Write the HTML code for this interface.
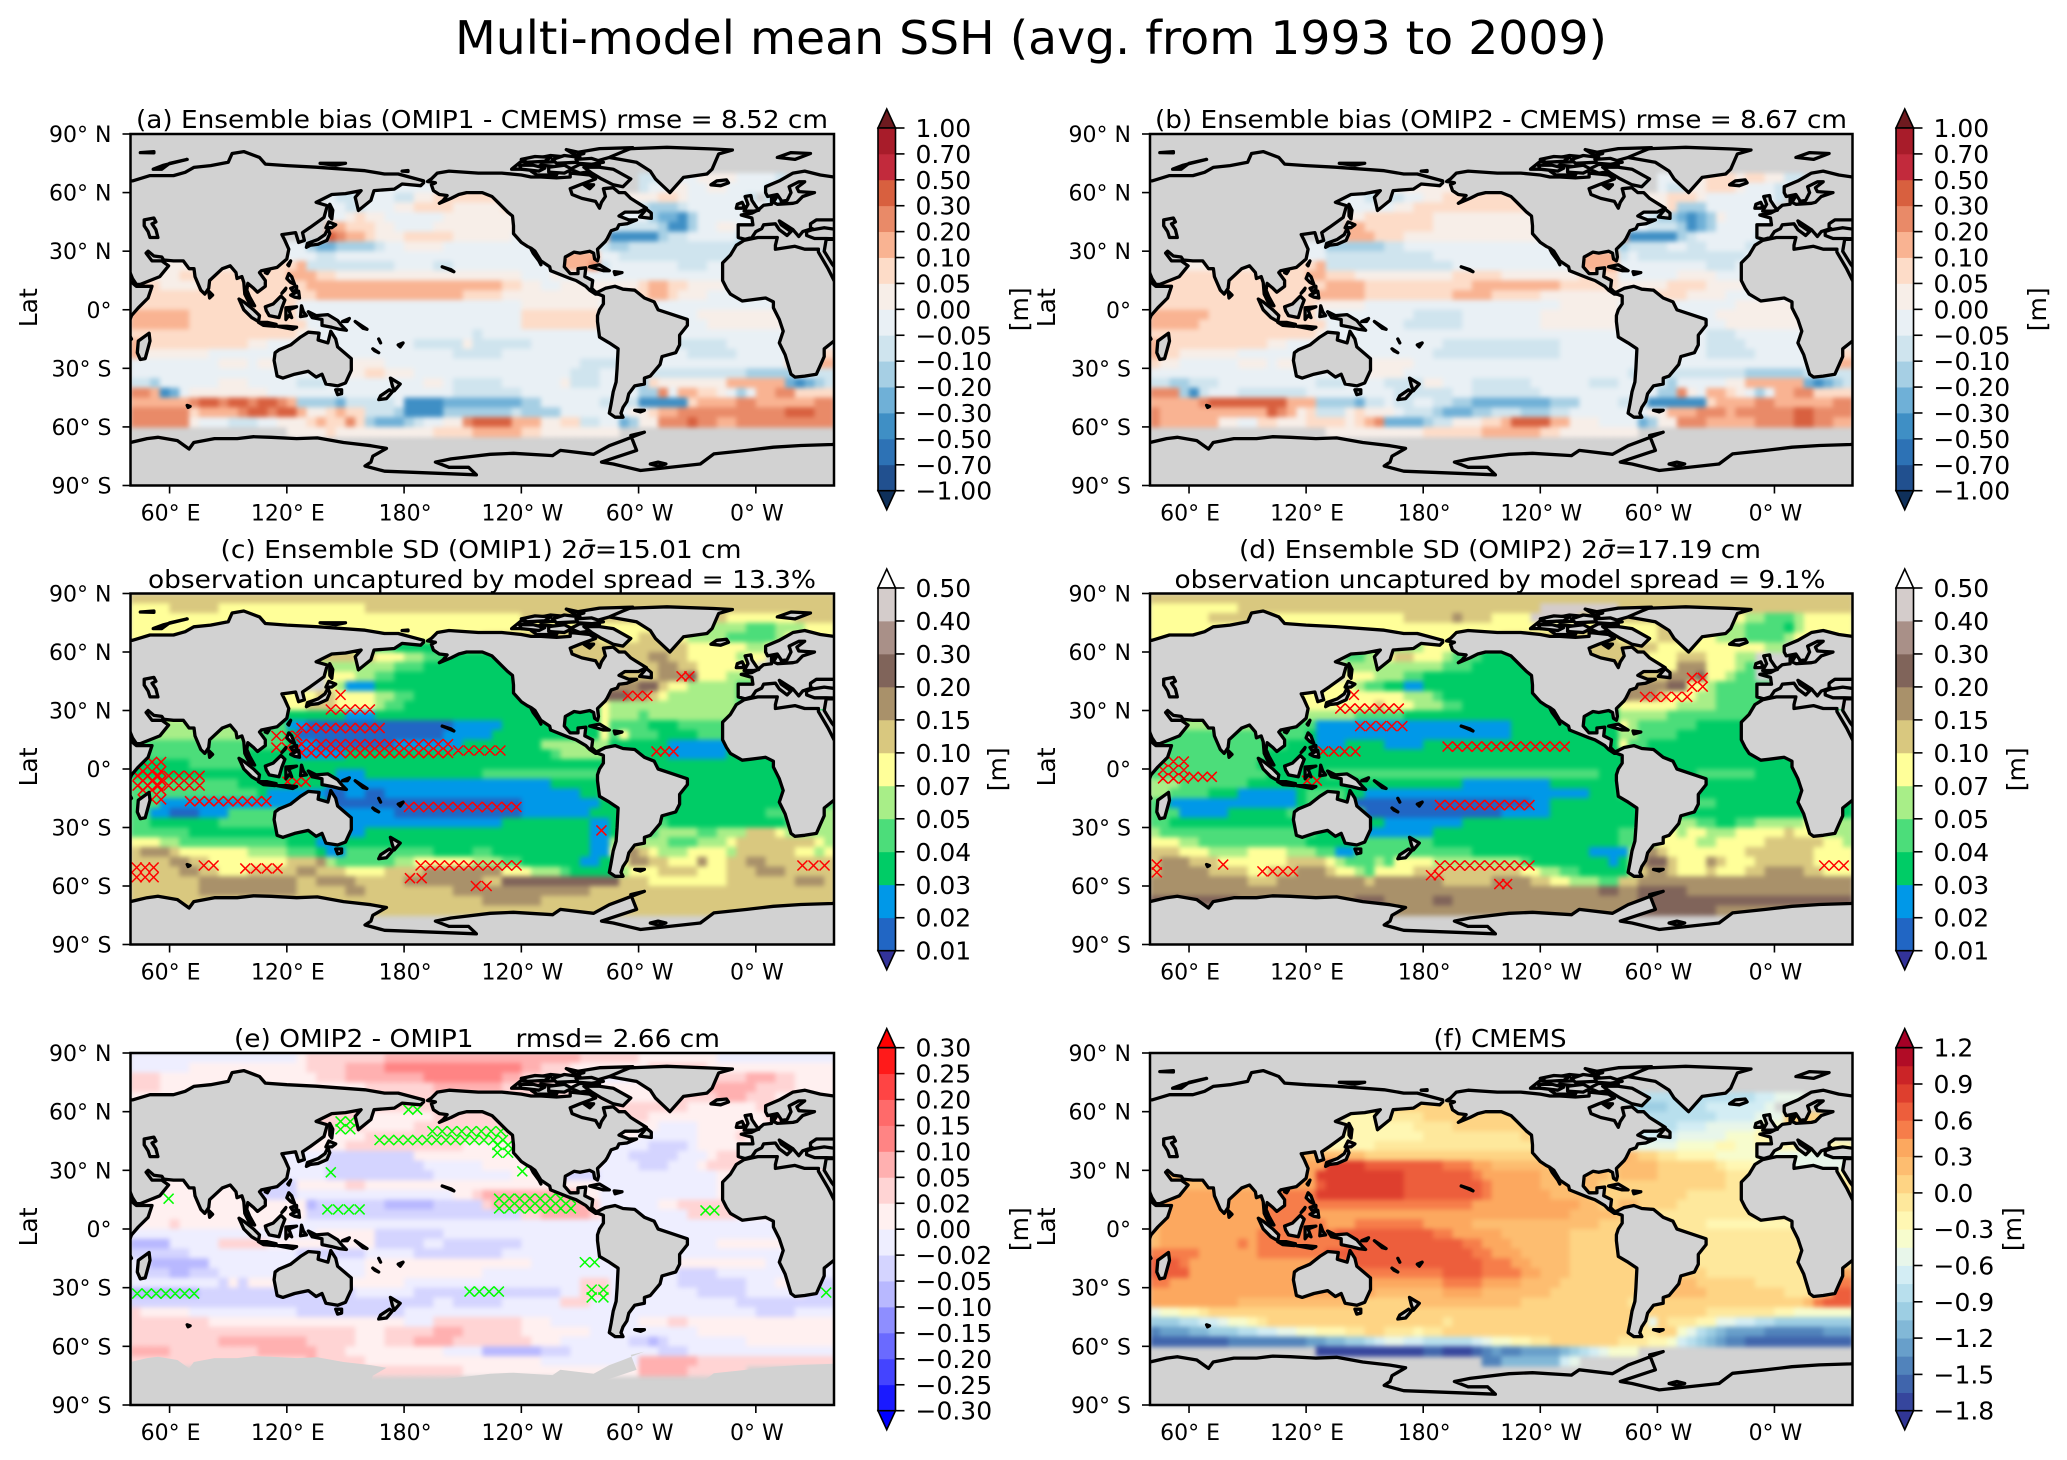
<!DOCTYPE html>
<html lang="en">
<head>
<meta charset="utf-8">
<title>Multi-model mean SSH</title>
<style>
html,body{margin:0;padding:0;background:#fff;}
svg{display:block;}
text{font-family:"DejaVu Sans","Liberation Sans",sans-serif;fill:#000;}
.ttl{font-size:25px;text-anchor:middle;}
</style>
</head>
<body>
<svg id="figure" width="2067" height="1460" viewBox="0 0 2067 1460">
<defs>
<filter id="soften" x="-5%" y="-5%" width="110%" height="110%" color-interpolation-filters="sRGB"><feGaussianBlur stdDeviation="2.5"/></filter>
</defs>
<rect x="0" y="0" width="2067" height="1460" fill="#ffffff"/>
<text x="1031" y="54" font-size="46" text-anchor="middle" textLength="1152" lengthAdjust="spacingAndGlyphs">Multi-model mean SSH (avg. from 1993 to 2009)</text>
<text class="ttl" x="482" y="128" textLength="692" lengthAdjust="spacingAndGlyphs">(a) Ensemble bias (OMIP1 - CMEMS) rmse = 8.52 cm</text>
<text class="ttl" x="1501" y="128" textLength="692" lengthAdjust="spacingAndGlyphs">(b) Ensemble bias (OMIP2 - CMEMS) rmse = 8.67 cm</text>
<text class="ttl" x="481" y="558" textLength="521" lengthAdjust="spacingAndGlyphs">(c) Ensemble SD (OMIP1) 2<tspan font-style="italic">σ̄</tspan>=15.01 cm</text>
<text class="ttl" x="482" y="588" textLength="668" lengthAdjust="spacingAndGlyphs">observation uncaptured by model spread = 13.3%</text>
<text class="ttl" x="1500" y="558" textLength="522" lengthAdjust="spacingAndGlyphs">(d) Ensemble SD (OMIP2) 2<tspan font-style="italic">σ̄</tspan>=17.19 cm</text>
<text class="ttl" x="1500" y="588" textLength="651" lengthAdjust="spacingAndGlyphs">observation uncaptured by model spread = 9.1%</text>
<text class="ttl" x="477" y="1047" textLength="486" lengthAdjust="spacingAndGlyphs" xml:space="preserve">(e) OMIP2 - OMIP1     rmsd= 2.66 cm</text>
<text class="ttl" x="1500" y="1047" textLength="133" lengthAdjust="spacingAndGlyphs">(f) CMEMS</text>
</svg>
<script>
/* ---------- axis tick data ---------- */
const lonTicks = [60,120,180,240,300,360];
const lonTickLabels = ["60° E","120° E","180°","120° W","60° W","0° W"];
const latTicks = [90,60,30,0,-30,-60,-90];
const latTickLabels = ["90° N","60° N","30° N","0°","30° S","60° S","90° S"];

/* ---------- colour-bar data (ticks listed top to bottom) ---------- */
const biasTicks = ["1.00","0.70","0.50","0.30","0.20","0.10","0.05","0.00","−0.05","−0.10","−0.20","−0.30","−0.50","−0.70","−1.00"];
const sdTicks = ["0.50","0.40","0.30","0.20","0.15","0.10","0.07","0.05","0.04","0.03","0.02","0.01"];
const diffTicks = ["0.30","0.25","0.20","0.15","0.10","0.05","0.02","0.00","−0.02","−0.05","−0.10","−0.15","−0.20","−0.25","−0.30"];
const cmemsTicks = ["1.2","0.9","0.6","0.3","0.0","−0.3","−0.6","−0.9","−1.2","−1.5","−1.8"];

/* palettes run from lowest (under) to highest (over) */
const biasPalette = ["#0f305a","#21508f","#2d72b5","#3f8fc5","#6fb0d7","#a6cfe4","#cfe4ee","#e9f0f5","#f7eee8","#fddcc8","#f9b392","#e98a68","#d8603f","#c22a3c","#a81c2a","#6e1a1f"];
const biasCodes = "abcdefghijklmnop";
const sdPalette = ["#333399","#2166c4","#0098e8","#00cc66","#4cdd7a","#a8ee88","#ffff99","#d9c87f","#a9916a","#80645a","#a99088","#d4cccb","#ffffff"];
const sdCodes = "abcdefghijklm";
const diffPalette = ["#0000ff","#1a1aff","#4444ff","#6a6aff","#8e8eff","#b8b8ff","#d4d4ff","#eeeeff","#fff0f0","#ffd4d4","#ffb0b0","#ff8484","#ff6a6a","#ff4444","#ff1a1a","#ff0000"];
const diffCodes = "abcdefghijklmnop";
const cmemsPalette = ["#313695","#36469d","#4065ac","#5183bb","#689fca","#82b8d7","#9dcee3","#b8dfed","#d3edf4","#e8f6ea","#f7fccd","#fff7b3","#fee89c","#fed484","#fdbd70","#fca85f","#f67d4a","#ed5e3c","#de3f2e","#cb2427","#b10c26","#a50026"];
const cmemsCodes = "Zabcdefghijklmnopqrst+";

/* ---------- gridded fields: 36 rows (90N to 90S, 5 deg), 6 groups of 12 columns (40E eastward, 5 deg).
   Each character is a colour-level code; a short group repeats its last code; "." = no data. ---------- */
const fieldA = [
".",".",".",".",
". . . . ....gggghhii iihhhhg.",
". ........hhgh hhhhhhhhhjjj jj..... ....ghhiihhi ihhhhg.",
". ........hggh hhhggiijjjjj jjj..... ggiiiijjihhh hhhg.gg.",
". hhhhhhhhhhgg hhhiijjjjiii iijj.... hhhhgfffghhh hhhhhhh.",
". ........hhij iihhhhhhiiii iiii.... hhhhhfeedfhh hhhhhhh.",
". ........kkjj jiihhhhiiiii iiii.... hhggggfddfhh iihhh.",
". ........mlkk jiiijjjjjiii iiihhhhh.... kdddddfgghhh hhggg.",
". hhhhhhfeefff fghhiiiihhhh hhhhhhhh gffggggggggg ggfg",
"i hhhhhhhgghhh h hhhhhhhhkkkk hhgggggggggg gg",
"i jjjjjkgggggg ggghhhhgghhh hhhhhhhhkkkl ghhhhhhhgggh hh",
"jjiiijjjjjjj jjjjkkkjjiii i iiiihhhihhhh h h",
"jjjiiiijjjjj jjjjjjkkkkkk k kkjjiihhiiii iiiijkkjjiii ihhhhhh",
"ijjjjjjjjjjj jjjjjjjkkkkk kkkkkkkkkkjj jjiiiiiiiiii iiijjkkjiiih h",
"j jjjjjhhhhhhh h hhhhiiiiiiii h h",
"kkkkkkjjjjjj jjjjjhhhhhhh h hhhhjjjjjjjj hhhhhhhhhhii i",
"kkkkkkjjjjjj jjjjjjhhhhhh h hhhhjjjjjjjj hhhhhhhhhhhi i",
"j jjjjjiihhhhh hhhhhhhhhhhg h h h",
"kjjjjjjjjjjj iihhhhhhhhhh hhhhhgggggig ggggghhhhhhh hhhhhhhhgggg ghhhhhhhhh",
"kiiiiiiihhhh h hhhhhhhhhggg gghhhhhhhhhh hhhhhhhhhggg gghhhhhhhj",
"hhhhhhhhhiii hiiiiiiiiiii iihhhhhhhhhh hhhhhhhhhhgg gghhhhhhhhhh hhhhhhhjjk",
"h hhhhhhhhhjii jjiiihhhhhhh hhhhhhhhhggg hhhhggggggg gggfffffhhgg",
"ggfhhhhhhiii hhhhhggghhhh hhhhhhiihggg gghhhhhhiggg hhhgfjiiiiii ikkkkkkedefg",
"llkdehiiiiii iihhhhhhhhhh hhhhhhhhhggg gggghhhhhhhh hhhhfflhkkjj ihfhkklljjjj",
"kkkkkklmmlmm lmmlkffffegg ggghddddeeee eeeeffhhhhhh ggggdddddjkk kkllkkkkkkll",
"lllllljkkkkl mmlmmkiijkjj gggfddddffff fffgffffhhhh hhhiijkkllll lllllllmmmll",
"llllllihhhgg ghhiiijkjjlj feeefghhiilm mmmkkkiijjgg hhefiilllmll kkllllllllll",
". ....iiiijiii iiiiiiijjjjk kkkkjjiiiiii ii.",
".",".",".",".",".","."
];
const fieldB = [
".",".",".",".",
". . . . ....hhiiijjj ijjiigg.",
". .......hhhhh hiiiiiiiijjj jj..... ....hggiijjj ihhhgh.",
". ........hhgg gghhiijjjjjj jjj..... ggiiijjjihhh hhhhg.",
". hhhhhhhhhhhh hiijjjjjjjjj jjjj.... hhhiijfffhhh hhhh.",
". ........iijj jjjjjiiiiiii iiii.... hhhgffedefih hhhh.",
". ........kkjj jjjjjiiiiiii iiii.... hhhgggfdefhh hhhh.",
". ........kkkj jjiiiiiiiiii iiiihhhh.... ldddddfghhhh hhgg.",
". hhhhhhffffff gghhhhhhhhhh h fgggghhgghhh hg",
"i hhhhhhggggg ggggghhhhhhh hhhhhhhhkkkk ghgggggggggg gh",
"i jjjjjkgggggg ggggggghhhhh hhhhhhhhkkkk hhhhhhhhhggg hh",
"j jjjjkkjjjiii iiiiiiijjjjj iiiiiiiijjjj hhhhhhiiiihh hh",
"j jjjjjjkkkkjj jjjjjjjjjkkk kkkkkkjjjjjj iiiiijjjjiii ih",
"j jjjjjkkkkkjj jjjjjjjkkkkj jjjjiiiiiiii iiijjjjiiiih hh",
"j jjjjjiiiiihh h hhhhhhiiiiii h iiii",
"kkkkkkjjjjjj jjjjjhhhhhhh hhhggggghhhh hhhhiiiiiiii hhhhhhhhhhii iiiii",
"kkkkkjjjjjjj jjjjjjhhhhhh hhgggggghhhh hhhhiiiiiiii hhhhhhhhhhhi iii",
"j jjjjjihhhhhh h h hhhhhhhhhggg hhh",
"kjjjjjjjjjjj iihhhhhhhhhh hhhhhhgggggg gggggghhhhhh hhhhhhhhhggg ghhh",
"kjjiiiiiihhh h hhhhhgggggg gggggghhhhhh hhhhhhhhhggg gghhhhhhhj",
"jiihhhhhhiii hiiiiiiiiiii iiihhhhhhhhh h h hhhhhhhhjk",
"h hhhhhhhhhiii iihhhhhhhhhh h hggggggggggg gffffffgggg",
"ggffggghhhhh hhhhhggghhhh ggggiihhhggg ggghhhhhhggg hhhhgfhhhhhi ikkkkkkedefg",
"lllfdghhhggg gggghhhhhhhh hgggggghhggg gggghhhhhhhh hhhhfflihkkj ihfhkklljjjj",
"kkkkklmmmmmm mmkkkffffegg hgghhggffeee eeeeefffhhhh gggddddddjkk kkllkkkkkkll",
"lkkkkkkkkkkk mlkijgggijii ihgggfeeeffg ggfffgghhhhh hhhiikkklllk llllllmmllll",
"lkkkkkkiihhj jiiijjjjijkl eeeefggiiijj kmmmmkkiiihh hhefiilllkkk kkllllmmllkk",
". ......iiiiii iiiijjjjjjkk kkkkjjiiiiii ii.",
".",".",".",".",".","."
];
const fieldC = [
"h",
"gggghhhhhggg g h h h h",
"g g g gggghhhhhhhh h hggggggghhhhh",
"g g g g ggggggggggff fffeeefffggg",
"g g g hhhhhhhhhhhh gggghhhggfff feeeeefggg",
"g ........fffg deeddddddfff hhhhhhhhhhhh hhhhhhhhhggg gggffgg.",
". ggggfffhhhhg hgggffeedddd dddddddddhhh hhhhhiihhggg ggfgg.",
". ffffffffffff fffeeedddddd dddddddddhhh iihhhhiihhgg gggg.",
". ........gggf feeddddddddd d gghhhhiiijgg gfff.",
". ........gfcc cddddddddddd d hiiijjhggfff ffeee.",
". ggggggghhggg gffeeddddddd d jjjiihgfffff ffeee.",
"g gggggghhhggg gfeedddddddd d gfffffffffff ffe",
"g ddddddddddcc cddddddddddd d gfffefffffff ffe",
"f eeeeccbbbbbb bbbbbbbbbccc ccdddddddddd geeeedddeeee eee",
"f eeeedbbbbbbb bbbbbbbbcccc cddddddddddd gegeeeddddee e",
"e eeeedccbbbbb bbbcccccccdd ddddddffffff fddddddccccc ccdddd",
"e dddddcccccdd d dddddddeffff fddddddccccc cd",
"ddddddeeeeee d d d d d",
"d dddddddddccc d e eeeddddddddd d",
"eeeeeeeeeeed ddddddddcccc c cccccccddddd eeeeeddddddd d",
"e edccccccbbcc bbcccccccccc ccccccccccdd eeeedddddddd d",
"eeeccccccccc ccccccddbbbb b bbbbcccccccc dddedddddddd ddddddddee",
"eeccbbbcccee eeeeeeddcccc cccbbbbbbbbb bbbbcccccccd ddeedddddddd dddddeeff",
"eedddddddeee eeeeeeddcccc c ccdddddddddc cdddeeeddddd dddddddeff",
"eeeeeedddddd dddddddddccc d dddddddddddc cdddeeffffee fffhhhgfff",
"gggffeeeeeee eeeedddccddd d dddddddddddc cfdgfffeeeff fghhhhhhhhgf",
"hiiihggggggg ffffeeedccee eeeeeeedddde eddddddddddc cgiihgfffggg gfhhhhhhggfg",
"hhhhiihhgggg gggghhhifeee eeeffggggggf ffeeddddddcc ddgiihhgggig ghhiihhhhhhh",
"hhhhhiihhggg hhhhhiihhhgg gghhhhiiiiii iigggfffeddd ddfggghhhhgg ghhhiiihhhhh",
"hhhhhhhiiiii iiiiihhiiiih hhhhiiiiiiii hhjjjjjjjjjj jjhhhggggggg ghhhhhhhiiih",
"hhhhhhhiiiii iiiiihhhhhii hhhhhhhhhiii iiiiiiiiiiih h h",
"h h h iiiiiihhhhhh h h",
". . h h h h",
".",".","."
];
const fieldD = [
"h",
"ggggggggghhh h h hhhhllllllll h h",
"gggggghhhhhg g gghhhhhihhhg ggglllllhhhh h gffeeefggggg",
"g g g g gggghhhhggff feeeedfgggg",
"g g g hhhhhhhhhhhh gggghhhhggff feeeefggg",
". ........eeef efffgggfffee hhhhhhhhhhhh hhhhgggggggg gggff.",
". ........eefg ghhgggfeeedd dddddddddhhh hhhggghhhggg ff.",
". ffffffffffff ffffffeeeddd dddddddddhhh ihhgggiiiggg fe.",
". ........gggf ffeedddddddd d gghhhiiijggf ee.",
". gggggggggfee ddccdddddddd d hiiiijjggfee ee",
". ggggggggggg ggfffedddddd d jiiihgggffee ee",
"g gggggggggggh gggfffeedddd d ggggggffffee ee",
"f fffffffffeee eedddddddddd d fffffeeeeeee e",
"f eeeeeccccccc c cddddddddddd gfeeeeeedddd d",
"e eeeedccccccc c cddddddddddd ffeeeedddddd d",
"e eedddcccdddd ccccdddddddd d geeddddddddd d",
"e d d d d d",
"eeeeeeeeeeed d d d d d",
"e ddddddeeeeee e eeeeeeeeeedd eeedddddeeee eedd",
"fffeeeeeeedd d ddddddddcccc cccccddddddd eeeedddddddd d",
"ffeeeedddccc cccdeeeeddcc c cccccccccddd eeeeeeeddddd ddddddddee",
"edcccccccccc cccdeeeedbbb b bbbccddddddd ddddddeeeedd d",
"eeecccccdddd ddeeeeeeeebb b cccccddddddd ddeeeedddddd d",
"eedddddddddd ddddeeeeeddd ccccccccdddd d ddeeffffeedd eefffffgff",
"feeeeeeeeeee eeeeeddddecc cccccddddddd d eeffggfggfff ggggghgggfff",
"gggffeeeeeee eeeedddddeee eeeeeddddddd d eeefggggffgg ggghhhhhhggf",
"hhhgggffffgg ggfffeecceee eeeeeeeeeddd dddddddddccc cfiihggggggg ghhhhhhhgggg",
"hiiihhhggggg gghhhhgfeeef eggggfffffff ffeddddddddc dfijjhgggihg gghhhhhhgggg",
"hiiiiihhhhgg hhhiiihggfeg ggghhhhhhhhh hhggffeedddd dfhiihggghgg ghhiiiihhggg",
"iiiiiiiiiihh hiiiiiiiiihi iiiiiihhhhhi iiihhggfffee hhiiiiiiiiii i",
"i i i iiiiiiiiiijj iijjjjjiiiii i",
"jjjjjjjjjiii iiiiiiiiijjj iiiiijjiiiii i iijjjjjjjjjj j",
". . jiiiiiiiiiii i iijjjjjjjjii i",
".",".","."
];
const fieldE = [
"h hhhhhijjjjjj jjkkkkkkkkkk kkkkkkkkkkjj jjjjiiiiiiii h",
"hhhhhhiiiiii iiiiiijjjjkk kkllllllllll llllkkjjjiii iiiiijjjjjji i",
"jjjiiiiiiiii iiiiiiijjjkk kkkkkkllllll llkkjjjjiiii hhhhhhhhiiij jjjkkkjjiiii",
"jjjiiiiiiiii i jjjjjjjkkkkk kkjjjjjiiiii iiiiiijjjjjk kkkkjjjjiiii",
"i i jjjjjjjj jjjj iiiiiijjjjjj kkkjjjiiii",
"i ........jjjj j j jjjjjjjjjiii iiiijj",
"i j iiiiiiijjjjj j jjjjjiiiiiii iiiiijj",
"i j iiiiijjjjjjj j jjiiiihhhhii i",
"i i j j iiiihhhhhhii iijiii",
"i iiiiiiiiiijj jjjjjjjjjjii i hhhhhgggghii i",
"i hhhhhhhhgggg gggggiiiiiii i hhhggggghhhi jjjjjii",
"i hhhhhhhhgggg gggggghhhhhh iiiiiiiiii hhhhggghhhij j",
"i hhhhhhhhgggg ggggggghhhhh hhhiiiiigggg h iiii",
"i gggggiiiiijj i i h iiii",
"i ggggghhhhhhh hhhhhhhhhiij kkkkkkkkkkii h iiii",
"i iiiiiifggggg ggfffffggggg jkkkkkkkkkkj hhhhhhiijjjj jjiiii",
"i iiiiiigggggg g ggggjjkkkkkj iihhhhhhhjjj jjiiii",
"iiiijiiiiiii iiiihhhhhhhh h h h h",
"h hhhhhhhiiiii iggggggghhhh h h h",
"ffffhhhhhjjj jjiiiiiiiiii iggggghhgggg gggghhhhhhhh h i",
"gggggghhhhhh hhhhhgggggg hhhhhggggggg gghhhhhhhhhh h h",
"hgffffffhhhh h i iiiiihhhhhhh hhhhhhiiiiii iiiiihh",
"hgggffggghhh h i h hhhhhhhhgggg h",
"hhhhhhhhhgig i iiiihhhhhhhh hhhhhhhhhhjj jhhhhhhhgggg ggghhhiiihg",
"fffffffggggg gggggggggfgh hhhhhggggggg gggggggghhjj jhhhhhhhhhgg ggghhhhhiggg",
"g g ggggggghhggg gghhhhhhjjjh h hhgggggggggg",
"jiiiiihhhhhh hhhhhggggggg gggghhhhhhhh h h hhhhgggghhh",
"jjjjjjjjiiii i iiiihhhjjjjj jjjjiiihhhhh hhhhiiijjiii iii",
"j jjjjjjjjjjji iijjjjjkkkjj jjjjiiiiiiih hhhhhhhhhhii i",
"jjjjjjjjjkkk kkkkkkjjjjji iijjjkkkkjjj jjjjjiiihhhh hhhggfghhhhh hhhiiiii",
"kkkkjjjjjjjj jkkkkkkjjjii iiiiiiiihhhh ffffffggghhh hhhhhhggghhh h",
"j jjjjjjkjjjjj i iiiiiihhhhhh hhhhkkkkkkjj j",
". .....jjjjjjj jjjjjjjjjjii i iiiikkkkkjjj jjj.",
".",".","."
];
const fieldF = [
".",".",".",".",
". . . . gggggggggggg gghhiii.",
". ........llll lmmmmmmmmmmm mmm..... ggfffgggghhh hhhi.",
". ........kkkk llllmmmmmmmm mmmm.... gggggggggghh hhiiimmmm.",
". kkkkkkkkkkkk kkkllllmmmmm mmmm.... hhgggghhhiii iijjjmmm.",
". jjjjjjjjkkkk kkkkllllllll llmmmmmm.... hhhhhhiiiiij jjkkk.",
". kkkkkkkkkkkl l lllll iiiiiijjjjkk jjkk",
". nnnnnnnnnnmm m mmmmmmmmm onmmllkkkkjj jjjiiiiiiiii",
"n oooooorrrrqq qqqqqqpppoon nnnnnmmmmmmm nnnnmmmmmmlk kkjjjiiiiiii",
"n ooooorrrrrrr rrqqqqqqqpoo oooonnnnnnnm nnnnmmmmmmml lllk",
"n oooooqrrrrrr rrqqqqqqqqpo oooonnnnnnmm mmmmmmmmmmml l",
"o ppppprrrrrrr rrqqqqqqqqpo ooooonnnnmmm mmmmmmmlllll ll",
"o p pppppppppooo oooooooonnmm nnmmmmllllll ll",
"o pppppooooooo o ooooooonnnnn mmmlllllllll ll",
"nooooooooooo ppppppoooppp ppppooooonnn nnnnnnnnnnmm mllllllllkkk k",
"noooooooooop pppppppqqqqq qqqqqppooooo nnnnnnnmmmmm mlllllllllll l",
"noooooooopop ppppppppqqqq qqqqqqqqppoo onnnnnnmmmmm mmmlllllllll lll",
"pppppoooooop ppppppqqqqqq qqqqqqqqqppo oonnnnnmmmmm mmmmmmllllll lll",
"qqqpoooooooo ooooooppqqqq qqqqqqqqqqpp poonnnnmmmmm mmmmmmmmllll lllllllll",
"qqqqoooooooo oooopppppppp ppppppqqqqpp ppoonnnmmmmm mmmmmmmmmlll lllllllllno",
"ppoooooooooo ooooooppppoo ooooooppppoo oonnnnmmmmmm mmmmnnnnmmmm mmlllllllnpp",
"o ooooooooooon nnnnnnoooonn nnnnnmmmmmmm mmmmnnnnnmmm mmmmmllllnqq",
"ooooooooonnn nnnnnnnnnmmm mmmnnnnnnnnn nnmmmmmmmmmm mlkmmmmmmmmm mmmmmmmnpqqq",
"ijjkklmmmmmm m m m mmlmmmmmmlll llllkkjjjjjj",
"fffgghhijjkl m mmmmmmlmmmmm m mmmimlllkkii hhggffffffff",
"cdddeefffggh hiijjkkkllmm lllkllmmmmmm m mmllmmjigfed dddccccccdddd",
"bbbbbbbbcccc ccccddeeffgh iihhggggghij jkkllmmmmmmm lllkkjhgfedc cbbbbbbbbbbb",
". .....aaaaaaa aaaabbaaabcd ccddddefghij jj.",
". . ..........cc eeeeeehi.",
".",".",".",".","."
];

/* ---------- hatching regions: [west lon, east lon, south lat, north lat] ---------- */
const hatchC = [[44,58,-18,6],[41,78,-11,-1],[68,112,-20,-13],[112,128,8,20],[125,205,6,15],[205,232,8,11],[125,170,18,24],[140,165,29,32],[145,150,36,40],[180,240,-23,-16],[118,132,-9,-4],[41,54,-58,-48],[75,85,-51,-48],[96,118,-52,-50],[186,240,-52,-47],[180,192,-58,-54],[214,225,-61,-59],[292,307,36,39],[320,328,45,50],[307,320,8,10],[278,284,-33,-30],[381,398,-52,-47]];
const hatchD = [[44,60,-7,6],[60,74,-5,-3],[135,170,29,33],[142,147,35,41],[145,172,21,23],[126,148,6,12],[190,255,9,14],[186,237,-22,-15],[291,318,35,39],[315,326,40,49],[41,46,-55,-47],[75,80,-51,-47],[95,116,-54,-51],[186,237,-51,-48],[217,225,-60,-58],[182,190,-56,-53],[383,398,-52,-47],[118,128,-8,-4]];
const hatchE = [[145,155,49,57],[165,233,42,49],[192,232,47,53],[225,236,37,45],[180,189,60,62],[238,243,28,31],[226,268,8,18],[140,145,28,30],[138,160,9,11],[332,341,7,12],[41,75,-36,-30],[211,231,-33,-31],[270,280,-18,-16],[273,285,-37,-29],[393,399,-35,-30],[57,62,13,18]];

/* ---------- coastline data: flat [lon,lat,...] lists, lon measured eastward 30..410 ---------- */
const coastEurasiaEast = [30,66,41,66,50,68.7,62,68.7,68,70.4,72.4,72.9,81,73.8,90,75.5,92,80,98,81,106,78,109,74.6,120,73.8,135,73,160,71.2,170,69.5,177,69.5,190,66,190,65,188.5,63.5,179,64.4,175,61.8,164.6,61,163,56,156.6,50.8,155,57.6,158,61,150,59.5,143,59,135,55,140.7,53.3,139,47.3,132,42.2,128,39.5,129,35.5,126,34.5,124.5,39.5,121,39,117.5,38.5,119,35.5,121,31,120,26,115,21.7,107,20,106,19,109,15,109,12,105,9,103,11,100,13.5,99.5,10,101,6.5,103.5,2,101,3,98.5,8,98,14,97,17,94.5,16,94,19,91,22.5,87,21,80.5,15,80,11,78,8,76,10,73,17,72.5,21,70,21,67,25,62,25,57,25.5,56,27,52,27.5,49,30,48,29,51,25,56,25,59.5,22.5,55,17,45,13,43,13,41,16,39,21,35,28,30,30];
const coastHorn = [30,14,40,14.5,43,12,51,12,49,6,44,1,40.5,-3,39,-7,39,-12,40.5,-15,35,-20,30,-20];
const coastMadagascar = [44,-16,49.5,-12,50,-16,47.5,-25,45,-25.5,43.5,-22];
const coastEurope = [410,68,400,68,393,69,385,71,379,70,372,66,365,63,365,60,366,58,371,59,373,56,373,55.5,376,56,378,60,377,63,382,65.5,385,65.5,381,62.5,382,60.5,390,60,384,58,381,55,379,54.5,371,54,369,55,370.5,57.5,368,57,368,54,364,53.5,361,51,358,49.5,352.5,48.5,358,47,358.5,43.5,351,43.5,351,37,354.5,36,358,37,360,40,363,41.5,364,43.5,370,44,372,41,376,38,378,40,373,43.5,372,45.5,379,41,382,37.5,384,40,387,41,389,41.5,388,42,388,44,391,46,397,46,400,46,410,46];
const coastTurkey = [386,40,389,41,395,42,402,41,410,38,410,36,396,36.5,390,36.5,386,38];
const coastArabiaEast = [395,30,399,23.5,410,10,410,36,396,36];
const coastAfrica = [354,35.5,350,33,347,28,343,24,343,20,343,15,345,11,347,8,353,4.5,357,5,365,6,369,4,369,1,372,-5,374,-11,372,-17,375,-23,378,-33,380,-34.5,385,-34,391,-33,393,-28.5,395,-24,395,-20,400,-16,405,-12,410,-5,410,10,400,15,397,21,392,29.5,392,31,385,31,380,32.5,370,31,370,33,371,37,361,37];
const coastNorthAmerica = [192,65.7,194,67,197,70,203,71,218,70,230,70,240,69,245,68,250,68,258,67.5,265,68,265,70,275,69,278,67,270,64,265,62,266,59,271,57,278,55.5,280,52,281,55,283,58,282,62,287,62.5,290,60,293,60,296,57,304,52,300,50,293,50,290,48,295,46,299,46,294,44,290,43.5,289,41.5,286,40.5,284,36.5,283,35,279,31,279.5,27,279,25,277.5,26,277,29,275,30,270,29,267,29.5,262.5,27,262,22,265,18.5,269,18.5,269,21,273,21.5,272.5,17,276.5,15,276,11,278,9,283,9,282,8,278,8,275,10,273,12,268,15,265,16,255,20,254.5,22,250,25,247,30,245,31.5,243,32.5,240,34.5,236,39,236,43,235.5,48,233,50,228,55,225,58,220,60,212,60,208,59,204,57,198,54.5,200,56,202,58.5,198,59,195,61,194,64,196,65];
const coastSouthAmerica = [278,8.5,283,11,288,12,292,10.5,298,10,303,6,308,4,310,0,316,-2,325,-5,325,-8,321,-13,321,-18,319,-22,312,-24,311,-28,306,-34,303,-35,303,-38,298,-39,295,-43,294,-47,292,-50,291,-53,292,-55,288,-55,285,-53,286,-48,287,-42,288.5,-37,289,-30,289.5,-20,285,-17,280,-14,279,-6,279,-3,280,0,282,3,282,7];
const coastBaja = [245,31,248,27,250,23,249,25,246,29];
const coastGreenland = [284.7,78,292,82.3,314.5,83.2,338.5,82.3,348,81.8,341,79.8,337.6,72,335,69.5,323,67.8,316,60,308.6,67,306,71,299,75.5];
const coastEllesmere = [268,80.5,280,82.5,297,83,292,81,285,78,278,76,270,77];
const coastBanks = [235,72,240,76,245,75,243,72];
const coastVictoria = [245,71,250,74,260,73,258,69,248,69];
const coastQueenElizabeth = [245,77,255,79,265,78,262,76,250,75.5];
const coastSomerset = [265,72,270,74.5,280,74,277,71,270,70];
const coastBaffin = [272,73,280,73,287,72,296,67,292,63,287,64,281,67,276,70];
const coastSouthampton = [272,64,277,64,275,62];
const coastMelville = [240,77,247,78.5,255,78,252,76,243,75.5];
const coastBathurst = [256,77,262,79,270,78,268,75.5,258,75];
const coastPrinceWales = [239,74,246,74,252,72.5,249,71,240,72];
const coastKing = [254,73,262,74,266,72,262,70,254,70.5];
const coastDevon = [268,77,276,77.5,282,75.5,276,74.5,269,75];
const coastAxel = [263,82,272,80,268,79];
const coastNewfoundland = [300.5,47.5,304,51.5,306.5,49.5,306.5,46.8];
const coastCuba = [275,22,280,23,285,20,282,20];
const coastHispaniola = [287.5,19.5,291.5,19,288,18];
const coastIceland = [337,64,340,66,345,66.5,346,65,342,63.5];
const coastBritain = [354,50.5,356,54,354.5,58,357.5,58.5,358,56,360,53,361.5,51,359,50.5];
const coastIreland = [350,52,350.5,54,353,55,354,53,353,52];
const coastSakhalin = [142,54,143.5,51,143,46.5,142,48,142,52];
const coastHokkaido = [140,42,141.5,45,145,43.5,143,42];
const coastHonshu = [130,32,130.5,34,136,36,139.5,38.5,141,41.5,142,39,140.5,35.5,136,33.5,132,33];
const coastTaiwan = [120.5,23,122,25,121,22.5];
const coastHainan = [109,19,111,20,110,18.5];
const coastLuzon = [120,16,121,18.5,122.5,17,124,13,122,14];
const coastMindanao = [122,7.5,126,9.5,126.5,6,124,6.5];
const coastVisayas = [122,11,125,12,125,10,123,9.5];
const coastPalawan = [117.5,8.5,119.5,11,119,10];
const coastBorneo = [109,1.5,113,3,117,7,119,5,117.5,1,116,-4,111,-3,109.5,-0.5];
const coastSumatra = [95.5,5.5,98,4,103,0,106,-3,105.5,-6,102,-4,98,0];
const coastJava = [105.5,-6.5,110,-6.5,114.5,-7.5,114,-8.5,108,-8];
const coastSunda = [115,-8.5,120,-8.5,125,-9,123,-10];
const coastSulawesi = [119.5,-5,119.5,1,125,1.5,121,0,122.5,-4,121,-3];
const coastMoluccas = [127.5,2,128.5,-1,130,-3,127,-3.5];
const coastNewGuinea = [131,-1,135,-3,141,-2.5,146,-5.5,148,-8,150.5,-10.5,147,-10,143,-9,138,-8,138,-5,133,-4];
const coastNewBritain = [148.5,-6,152,-4.5,151,-6];
const coastSolomon = [155,-6,161,-10,159,-9.5];
const coastVanuatu = [167,-15,168,-17,167.5,-16];
const coastCaledonia = [164,-20,167,-22,165,-21];
const coastFiji = [177,-18,179.5,-17,178,-19];
const coastHawaii = [199.5,22,202,21,205.5,19.5,204,20.5];
const coastSriLanka = [80,9.5,82,7.5,80.5,6];
const coastAustralia = [114,-22,113.5,-26,115,-34,118,-35,124,-33,131,-31.5,135,-34.5,138,-33,140,-38,146,-39,150,-37.5,153,-31,153,-25,146,-19,145,-15,142.5,-11,141,-17,136,-15.5,136.5,-12,131,-11.5,127,-14,122,-18,116,-20.5];
const coastTasmania = [145,-41,148,-41,148,-43,146,-43.5];
const coastNzNorth = [173,-35,178,-38,175,-41.5,174,-39];
const coastNzSouth = [172.5,-41,174,-42,171,-45.5,167,-46,168,-44];
const coastKerguelen = [69,-49,70.5,-49.5,69.5,-50];
const coastFalkland = [298,-51.5,303,-51.5,301,-52.3];
const coastCaspian = [47,46,52,47,53,45,51,44,53,41,54,37,50,37,49,40,47,43];
const coastAntarctica = [30,-68,40,-68,48.5,-66,54,-65.3,64,-67,70,-71.3,72.4,-68,83,-66,94.6,-66,103,-65,112,-65.3,125,-66,135.6,-65.6,149,-68,163,-69.6,171,-71,164,-75,163,-78,160,-80,170,-82.7,217,-84.5,213,-80.7,203,-80.7,196,-78,204,-76.4,224,-74,236,-73.5,256,-74.7,260,-72,277,-74,285,-69.6,292,-67,303,-62.7,296,-64.4,299,-72,281,-78,287,-79,301,-82.3,331.6,-79,338.5,-73.8,355.5,-72,369,-70.4,383,-69.5,399,-69,410,-68,410,-95,30,-95];
const coastBerkner = [306,-79,310,-78,314,-79,310,-80];
const coastNovaya = [51.6,72,57,74,69,77,60,75,56,72];
const coastFranzJosef = [45,80.5,52,81,52,80.3];
const coastNewSiberian = [137,75,150,75,145,74];
const coastWrangel = [179,71,182,71.3,182,70.8];
const coastSvalbard = [371,78,378,80.5,388,80,380,77];
const seaMediterranean = [354.5,36,358,37,360,40,364,43.5,370,44,372,41,376,38,378,40,373,43.5,372,45.5,379,41,382,37.5,384,40,387,41,386,40,386,38,390,36.5,396,36.5,396,36,395,31,392,31,385,31,380,32.5,370,31,370,33,371,37,361,37];
const seaBlack = [389,41.5,388,44,391,46.5,397,45.5,400,45,402,41,395,42];
const seaBaltic = [373,55.5,376,56,378,60,377,63,382,65.5,385,65.5,381,62.5,382,60.5,390,60,384,58,381,55,379,54.5];
const seaPersianGulf = [49,30,48,29,51,25,56,25,56,27,52,27.5];
const seaRed = [392,29.5,397,21,400,15,410,10,399,23.5,395,30];
const seaHudson = [265,62,266,59,271,57,278,55.5,280,52,281,55,283,58,282,62,287,62.5,278,67,270,64];

const mainCoasts = [coastEurasiaEast,coastHorn,coastMadagascar,coastEurope,coastTurkey,coastArabiaEast,coastAfrica,coastNorthAmerica,coastSouthAmerica,coastBaja,coastGreenland,coastEllesmere,coastBanks,coastVictoria,coastQueenElizabeth,coastSomerset,coastBaffin,coastSouthampton,coastMelville,coastBathurst,coastPrinceWales,coastKing,coastDevon,coastAxel,coastNewfoundland,coastCuba,coastHispaniola,coastIceland,coastBritain,coastIreland,coastSakhalin,coastHokkaido,coastHonshu,coastTaiwan,coastHainan,coastLuzon,coastMindanao,coastVisayas,coastPalawan,coastBorneo,coastSumatra,coastJava,coastSunda,coastSulawesi,coastMoluccas,coastNewGuinea,coastNewBritain,coastSolomon,coastVanuatu,coastCaledonia,coastFiji,coastHawaii,coastSriLanka,coastAustralia,coastTasmania,coastNzNorth,coastNzSouth,coastKerguelen,coastFalkland,coastCaspian];
const arcticCoasts = [coastNovaya,coastFranzJosef,coastNewSiberian,coastWrangel,coastSvalbard];
const southCoasts = [coastAntarctica,coastBerkner];
const seaMasks = [seaMediterranean,seaBlack,seaBaltic,seaPersianGulf,seaRed];

/* ---------- figure layout ---------- */
const LAND = "#d2d2d2";
const panels = [
 {key:"a",field:fieldA,codes:biasCodes,palette:biasPalette,ticks:biasTicks,hatch:[],hatchColor:"#f00",x0:130.5,x1:834,y0:134,y1:485.5,cbX:878,cbY0:128,cbY1:490.7,unitX:1019,latX:28,arctic:true,south:true,hudson:true,seas:true},
 {key:"b",field:fieldB,codes:biasCodes,palette:biasPalette,ticks:biasTicks,hatch:[],hatchColor:"#f00",x0:1150,x1:1852.5,y0:134,y1:485.5,cbX:1896,cbY0:128,cbY1:490.7,unitX:2037,latX:1046,arctic:true,south:true,hudson:true,seas:true},
 {key:"c",field:fieldC,codes:sdCodes,palette:sdPalette,ticks:sdTicks,hatch:hatchC,hatchColor:"#f00",x0:130.5,x1:834,y0:593.5,y1:944.5,cbX:878,cbY0:588,cbY1:950.7,unitX:997,latX:28,arctic:true,south:true,hudson:false,seas:true},
 {key:"d",field:fieldD,codes:sdCodes,palette:sdPalette,ticks:sdTicks,hatch:hatchD,hatchColor:"#f00",x0:1150,x1:1852.5,y0:593.5,y1:944.5,cbX:1896,cbY0:588,cbY1:950.7,unitX:2016,latX:1046,arctic:false,south:true,hudson:false,seas:true},
 {key:"e",field:fieldE,codes:diffCodes,palette:diffPalette,ticks:diffTicks,hatch:hatchE,hatchColor:"#0f0",x0:130.5,x1:834,y0:1053,y1:1405,cbX:878,cbY0:1047.7,cbY1:1410.7,unitX:1019,latX:28,arctic:false,south:false,hudson:true,seas:true},
 {key:"f",field:fieldF,codes:cmemsCodes,palette:cmemsPalette,ticks:cmemsTicks,hatch:[],hatchColor:"#f00",x0:1150,x1:1852.5,y0:1053,y1:1405,cbX:1896,cbY0:1047.7,cbY1:1410.7,unitX:2012,latX:1046,arctic:true,south:true,hudson:true,seas:false}
];

const NS = "http://www.w3.org/2000/svg";
const svg = document.getElementById("figure");
function addEl(parent, tag, attrs){
  const el = document.createElementNS(NS, tag);
  for (const k in attrs) el.setAttribute(k, attrs[k]);
  parent.appendChild(el);
  return el;
}
function expandRow(row){
  const groups = row.split(" ");
  let out = "";
  for (let g = 0; g < 6; g++){
    const src = g < groups.length ? groups[g] : groups[groups.length-1].slice(-1);
    out += src.padEnd(12, src.slice(-1)).slice(0,12);
  }
  return out;
}
function drawField(p, parent, lonX, latY){
  const g = addEl(parent, "g", {filter:"url(#soften)"});
  
  
  p.field.forEach(function(row, r){
    const cells = expandRow(row);
    for (let c = 0; c < 72; c++){
      const idx = p.codes.indexOf(cells[c]);
      if (idx < 0) continue;
      const lon = 40 + c*5, lat = 90 - r*5;
      const cell = addEl(g, "rect", {x:lonX(lon), y:latY(lat), width:lonX(lon+5)-lonX(lon)+0.6, height:latY(lat-5)-latY(lat)+0.6, fill:p.palette[idx]});
      
      
    }
  });
}
function polyPoints(list, lonX, latY){
  const pts = [];
  for (let i = 0; i < list.length; i += 2) pts.push(lonX(list[i]).toFixed(1) + "," + latY(list[i+1]).toFixed(1));
  return pts.join(" ");
}
function drawPanel(p){
  const lonX = function(v){ return p.x0 + (v-40)*(p.x1-p.x0)/360; };
  const latY = function(v){ return p.y0 + (90-v)*(p.y1-p.y0)/180; };
  const root = addEl(svg, "g", {});
  
  

  const clip = addEl(root, "clipPath", {id:"clip-" + p.key});
  addEl(clip, "rect", {x:p.x0, y:p.y0, width:p.x1-p.x0, height:p.y1-p.y0});

  const bg = addEl(root, "rect", {x:p.x0, y:p.y0, width:p.x1-p.x0, height:p.y1-p.y0, fill:LAND});
  
  

  const map = addEl(root, "g", {"clip-path":"url(#clip-" + p.key + ")"});
  
  
  drawField(p, map, lonX, latY);

  const masks = (p.seas ? seaMasks : []).concat(p.hudson ? [seaHudson] : []);
  masks.forEach(function(m){
    const el = addEl(map, "polygon", {points:polyPoints(m, lonX, latY), fill:LAND, stroke:LAND, "stroke-width":1});
    
    
  });

  p.hatch.forEach(function(h){
    const nx = Math.max(1, Math.round((h[1]-h[0])/5));
    const ny = Math.max(1, Math.round((h[3]-h[2])/5));
    const cw = (h[1]-h[0])/nx, ch = (h[3]-h[2])/ny;
    let d = "";
    for (let i = 0; i < nx; i++){
      for (let j = 0; j < ny; j++){
        const x = lonX(h[0]+(i+0.5)*cw), y = latY(h[2]+(j+0.5)*ch);
        d += "M" + (x-5) + " " + (y-5) + "L" + (x+5) + " " + (y+5) + "M" + (x+5) + " " + (y-5) + "L" + (x-5) + " " + (y+5);
      }
    }
    const el = addEl(map, "path", {d:d, stroke:p.hatchColor, "stroke-width":1.5, fill:"none"});
    
    
  });

  const strokeList = mainCoasts.concat(p.arctic ? arcticCoasts : []).concat(p.south ? southCoasts : []);
  strokeList.forEach(function(c){
    const el = addEl(map, "polygon", {points:polyPoints(c, lonX, latY), fill:LAND, stroke:"#000", "stroke-width":3.3, "stroke-linejoin":"round"});
    
    
  });
  if (!p.south){
    const el = addEl(map, "polygon", {points:polyPoints(coastAntarctica, lonX, latY), fill:LAND});
    
    
  }

  const frame = addEl(root, "rect", {x:p.x0, y:p.y0, width:p.x1-p.x0, height:p.y1-p.y0, fill:"none", stroke:"#000", "stroke-width":2.5});
  
  

  lonTicks.forEach(function(v, i){
    const x = lonX(v);
    const t = addEl(root, "line", {x1:x, x2:x, y1:p.y1, y2:p.y1+8, stroke:"#000", "stroke-width":1.6});
    
    
    const l = addEl(root, "text", {x:x+1, y:p.y1+35, "font-size":22, "text-anchor":"middle"});
    l.textContent = lonTickLabels[i];
    
    
  });
  latTicks.forEach(function(v, i){
    const y = latY(v);
    const t = addEl(root, "line", {x1:p.x0-8, x2:p.x0, y1:y, y2:y, stroke:"#000", "stroke-width":1.6});
    
    
    const l = addEl(root, "text", {x:p.x0-19, y:y+8, "font-size":22, "text-anchor":"end"});
    l.textContent = latTickLabels[i];
    
    
  });
  const midY = (p.y0+p.y1)/2;
  const lat = addEl(root, "text", {x:p.latX+9, y:midY-2, "font-size":25, "text-anchor":"middle", transform:"rotate(-90 " + (p.latX+9) + " " + (midY-2) + ")"});
  lat.textContent = "Lat";
  
  

  /* colour bar */
  const cb = addEl(root, "g", {});
  
  
  const W = 17.5, X = p.cbX, bins = p.palette.length - 2;
  const H = p.cbY1 - p.cbY0, tip = 19;
  const tipBottom = addEl(cb, "polygon", {points:X + "," + p.cbY1 + " " + (X+W) + "," + p.cbY1 + " " + (X+W/2) + "," + (p.cbY1+tip), fill:p.palette[0], stroke:"#000", "stroke-width":1.6});
  
  
  const tipTop = addEl(cb, "polygon", {points:X + "," + p.cbY0 + " " + (X+W) + "," + p.cbY0 + " " + (X+W/2) + "," + (p.cbY0-tip), fill:p.palette[bins+1], stroke:"#000", "stroke-width":1.6});
  
  
  for (let b = 0; b < bins; b++){
    const y = p.cbY1 - (b+1)*H/bins;
    const seg = addEl(cb, "rect", {x:X, y:y, width:W, height:H/bins+0.4, fill:p.palette[b+1]});
    
    
  }
  const box = addEl(cb, "rect", {x:X, y:p.cbY0, width:W, height:H, fill:"none", stroke:"#000", "stroke-width":1.6});
  
  
  p.ticks.forEach(function(label, i){
    const y = p.cbY0 + i*H/(p.ticks.length-1);
    const t = addEl(cb, "line", {x1:X+W, x2:X+W+9, y1:y, y2:y, stroke:"#000", "stroke-width":1.6});
    
    
    const l = addEl(cb, "text", {x:X+W+20, y:y+9, "font-size":25});
    l.textContent = label;
    
    
  });
  const unitY = (p.cbY0+p.cbY1)/2;
  const unit = addEl(cb, "text", {x:p.unitX+9, y:unitY, "font-size":25, "text-anchor":"middle", transform:"rotate(-90 " + (p.unitX+9) + " " + unitY + ")"});
  unit.textContent = "[m]";
  
  
}
panels.forEach(drawPanel);
</script>
</body>
</html>
